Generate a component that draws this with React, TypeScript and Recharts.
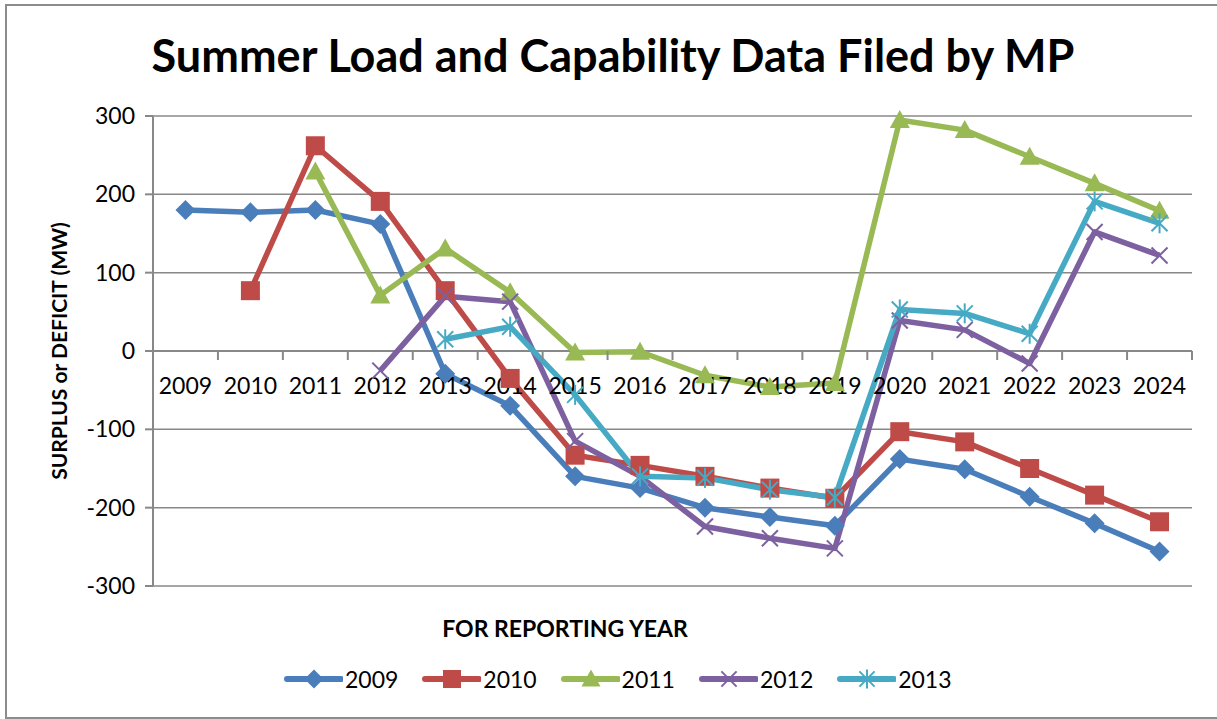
import React from 'react';
import { LineChart, Line, XAxis, YAxis, CartesianGrid, ReferenceLine, ReferenceDot, Label } from 'recharts';

const years = ['2009', '2010', '2011', '2012', '2013', '2014', '2015', '2016', '2017', '2018', '2019', '2020', '2021', '2022', '2023', '2024'];
const s2009 = [180, 177, 180, 162, -29, -70, -160, -175, -200, -212, -223, -138, -151, -186, -220, -256];
const s2010 = [null, 77, 262, 191, 77, -35, -133, -146, -160, -175, -188, -103, -116, -150, -184, -218];
const s2011 = [null, null, 229, 71, 131, 75, -2, -1, -31, -46, -41, 295, 282, 248, 214, 179];
const s2012 = [null, null, null, -25, 70, 63, -115, -160, -224, -239, -252, 39, 27, -16, 152, 122];
const s2013 = [null, null, null, null, 15, 31, -56, -160, -162, -177, -187, 53, 48, 22, 191, 163];
const seriesNames = ['2009', '2010', '2011', '2012', '2013'];
const seriesValues = [s2009, s2010, s2011, s2012, s2013];
const seriesColors = ['#4A7EBB', '#BE4B48', '#98B954', '#7D60A0', '#46AAC5'];
const seriesMarkers = ['diamond', 'square', 'triangle', 'x', 'star'];
const yTicks = [-300, -200, -100, 0, 100, 200, 300];

const title = 'Summer Load and Capability Data Filed by MP';
const xTitle = 'FOR REPORTING YEAR';
const yTitle = 'SURPLUS or DEFICIT (MW)';

const data = years.map((y, i) => {
  const row: any = { pos: i + 0.5, year: y };
  seriesNames.forEach((n, k) => {
    row['s' + n] = seriesValues[k][i];
  });
  return row;
});
const boundaries = years.map((_, i) => i).concat([years.length]);

const FONT = 'Lato, "Open Sans", sans-serif';
const GRID = '#888888';

function markerPath(kind: string, cx: number, cy: number, color: string, scale = 1) {
  const s = scale;
  if (kind === 'diamond') {
    const r = 10 * s;
    return <path d={`M${cx},${cy - r}L${cx + r},${cy}L${cx},${cy + r}L${cx - r},${cy}Z`} fill={color} />;
  }
  if (kind === 'square') {
    const h = 9.5 * s;
    return <rect x={cx - h} y={cy - h} width={2 * h} height={2 * h} fill={color} />;
  }
  if (kind === 'triangle') {
    const w = 10 * s;
    return <path d={`M${cx},${cy - w}L${cx + w},${cy + 8 * s}L${cx - w},${cy + 8 * s}Z`} fill={color} />;
  }
  if (kind === 'x') {
    const r = 8 * s;
    return (
      <g stroke={color} strokeWidth={2}>
        <line x1={cx - r} y1={cy - r} x2={cx + r} y2={cy + r} />
        <line x1={cx - r} y1={cy + r} x2={cx + r} y2={cy - r} />
      </g>
    );
  }
  const r = 8 * s;
  return (
    <g stroke={color} strokeWidth={2}>
      <line x1={cx - r} y1={cy - r} x2={cx + r} y2={cy + r} />
      <line x1={cx - r} y1={cy + r} x2={cx + r} y2={cy - r} />
      <line x1={cx} y1={cy - r - 2} x2={cx} y2={cy + r + 2} />
    </g>
  );
}

function makeDot(kind: string, color: string) {
  return (p: any) => {
    const key = `${kind}-${p.index}`;
    if (p.cx == null || p.cy == null || p.value == null || (Array.isArray(p.value) && p.value[1] == null)) {
      return <g key={key} />;
    }
    return <g key={key}>{markerPath(kind, p.cx, p.cy, color)}</g>;
  };
}

const TickMark = (p: any) => (
  <line x1={p.cx} y1={p.cy} x2={p.cx} y2={p.cy + 9} stroke={GRID} strokeWidth={2} />
);

function makeYearLabel(label: string) {
  return (p: any) => (
    <text x={p.cx} y={p.cy + 43} textAnchor="middle" fontFamily={FONT} fontSize={23} fill="#000">
      {label}
    </text>
  );
}

const YTitle = (props: any) => {
  const vb = props.viewBox || {};
  const cx = vb.x + 30;
  const cy = vb.y + vb.height / 2;
  return (
    <text x={cx} y={cy} transform={`rotate(-90 ${cx} ${cy})`} textAnchor="middle" dominantBaseline="central"
      fontFamily={FONT} fontWeight="bold" fontSize={21} fill="#000">
      {yTitle}
    </text>
  );
};

export default function App() {
  return (
    <div style={{ position: 'absolute', left: 0, top: 0, width: 1217, height: 719, background: '#fff', overflow: 'hidden', fontFamily: FONT }}>
      <div style={{ position: 'absolute', left: 5, top: 4, width: 1240, height: 711, border: '2px solid #8c8c8c' }} />
      <div style={{ position: 'absolute', left: 0, top: 27, width: 1226, textAlign: 'center', fontSize: 45, fontWeight: 'bold', color: '#000', lineHeight: '56px' }}>
        {title}
      </div>
      <div style={{ position: 'absolute', left: 365, top: 613, width: 400, textAlign: 'center', fontSize: 23, fontWeight: 'bold', color: '#000', lineHeight: '30px' }}>
        {xTitle}
      </div>
      <div style={{ position: 'absolute', left: 0, top: 0 }}>
        <LineChart width={1217} height={719} data={data} margin={{ top: 116, right: 25, bottom: 133, left: 28 }}>
          <CartesianGrid horizontal={true} vertical={false} stroke={GRID} strokeWidth={1.5} />
          <XAxis type="number" dataKey="pos" domain={[0, years.length]} hide height={0} />
          <YAxis
            domain={[-300, 300]}
            ticks={yTicks}
            width={125}
            interval={0}
            axisLine={{ stroke: GRID, strokeWidth: 2 }}
            tickLine={{ stroke: GRID, strokeWidth: 2 }}
            tickSize={8}
            tickMargin={10}
            tick={{ fill: '#000', fontSize: 23, fontFamily: FONT }}
          >
            <Label content={YTitle} />
          </YAxis>
          <ReferenceLine y={0} stroke={GRID} strokeWidth={2} />
          {boundaries.map((b) => (
            <ReferenceDot key={'t' + b} x={b} y={0} r={0} shape={TickMark} />
          ))}
          {years.map((yr, i) => (
            <ReferenceDot key={'l' + yr} x={i + 0.5} y={0} r={0} shape={makeYearLabel(yr)} />
          ))}
          {seriesNames.map((n, k) => (
            <Line
              key={n}
              dataKey={'s' + n}
              name={n}
              type="linear"
              stroke={seriesColors[k]}
              strokeWidth={5.5}
              strokeLinejoin="round"
              dot={makeDot(seriesMarkers[k], seriesColors[k])}
              activeDot={false}
              connectNulls={false}
              isAnimationActive={false}
            />
          ))}
        </LineChart>
      </div>
      <div style={{ position: 'absolute', left: 283, top: 662, display: 'flex', flexDirection: 'row' }}>
        {seriesNames.map((n, k) => (
          <div key={n} style={{ width: 138.3, display: 'flex', alignItems: 'center', height: 34 }}>
            <svg width={60} height={34} style={{ display: 'block' }}>
              <line x1={4} y1={17} x2={58} y2={17} stroke={seriesColors[k]} strokeWidth={6} strokeLinecap="round" />
              {markerPath(seriesMarkers[k], 31, 17, seriesColors[k], 0.95)}
            </svg>
            <span style={{ fontSize: 23, color: '#000', marginLeft: 2, lineHeight: '34px' }}>{n}</span>
          </div>
        ))}
      </div>
    </div>
  );
}
